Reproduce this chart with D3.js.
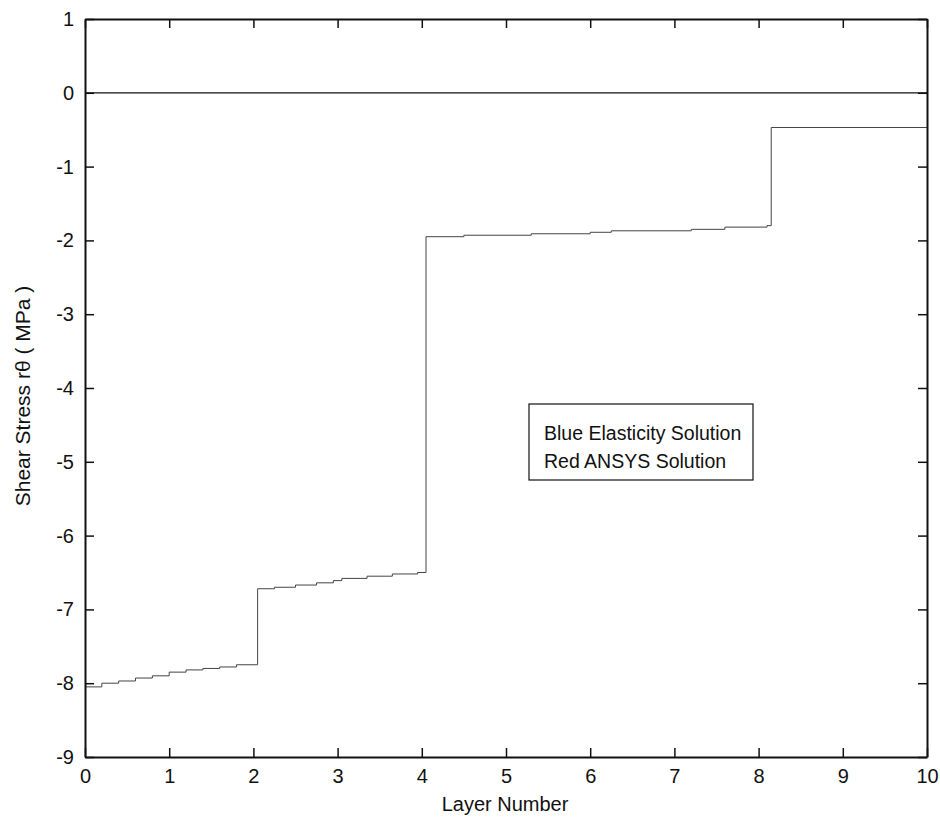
<!DOCTYPE html>
<html>
<head>
<meta charset="utf-8">
<script src="https://cdn.jsdelivr.net/npm/d3@7"></script>
<style>
  body { margin: 0; background: #fff; }
  text { font-family: "Liberation Sans", Arial, sans-serif; fill: #111; }
</style>
</head>
<body>
<div id="chart"></div>
<script>
// layer positions where the computed stress changes (step starts)
const layerX = [0, 0.2, 0.4, 0.6, 0.8, 1.0, 1.2, 1.4, 1.6, 1.8,
  2.05, 2.25, 2.5, 2.75, 2.95, 3.05, 3.35, 3.65, 3.95,
  4.05, 4.5, 5.3, 6.0, 6.25, 7.2, 7.6, 8.1,
  8.15, 10];
const stress = [-8.05, -8.0, -7.97, -7.93, -7.9, -7.85, -7.82, -7.8, -7.78, -7.75,
  -6.72, -6.70, -6.67, -6.64, -6.61, -6.58, -6.55, -6.52, -6.50,
  -1.95, -1.93, -1.91, -1.89, -1.87, -1.85, -1.82, -1.80,
  -0.47, -0.47];
const zeroLine = [[0, 0], [10, 0]];
const xTicks = [0, 1, 2, 3, 4, 5, 6, 7, 8, 9, 10];
const yTicks = [1, 0, -1, -2, -3, -4, -5, -6, -7, -8, -9];
const legendLines = ['Blue Elasticity Solution', 'Red ANSYS Solution'];

const width = 940, height = 830;
const margin = { top: 19, right: 13, bottom: 73, left: 85 };
const fs = '20px';

const svg = d3.select('#chart').append('svg')
  .attr('width', width)
  .attr('height', height);

const x = d3.scaleLinear().domain([0, 10]).range([margin.left, width - margin.right]);
const y = d3.scaleLinear().domain([-9, 1]).range([height - margin.bottom, margin.top]);

// zero reference line
svg.append('path')
  .datum(zeroLine)
  .attr('fill', 'none')
  .attr('stroke', '#111')
  .attr('stroke-width', 1.2)
  .attr('d', d3.line().x((d) => x(d[0])).y((d) => y(d[1])));

// stress curve (stair steps)
const pts = layerX.map((v, i) => [v, stress[i]]);
svg.append('path')
  .datum(pts)
  .attr('fill', 'none')
  .attr('stroke', '#444')
  .attr('stroke-width', 1)
  .attr('d', d3.line().curve(d3.curveStepAfter).x((d) => x(d[0])).y((d) => y(d[1])));

// axes, ticks pointing inward on all four sides
const tk = 9;
const axBottom = svg.append('g')
  .attr('transform', 'translate(0,' + y(-9) + ')')
  .call(d3.axisBottom(x).tickValues(xTicks).tickFormat(d3.format('d')).tickSizeInner(-tk).tickSizeOuter(0).tickPadding(12));
const axTop = svg.append('g')
  .attr('transform', 'translate(0,' + y(1) + ')')
  .call(d3.axisTop(x).tickValues(xTicks).tickFormat('').tickSizeInner(-tk).tickSizeOuter(0));
const axLeft = svg.append('g')
  .attr('transform', 'translate(' + x(0) + ',0)')
  .call(d3.axisLeft(y).tickValues(yTicks).tickFormat(d3.format('d')).tickSizeInner(-tk).tickSizeOuter(0).tickPadding(11));
const axRight = svg.append('g')
  .attr('transform', 'translate(' + x(10) + ',0)')
  .call(d3.axisRight(y).tickValues(yTicks).tickFormat('').tickSizeInner(-tk).tickSizeOuter(0));

[axBottom, axTop, axLeft, axRight].forEach((g) => {
  g.select('.domain').attr('stroke', '#111').attr('stroke-width', 2);
  g.selectAll('.tick line').attr('stroke', '#111').attr('stroke-width', 1.5);
  g.selectAll('.tick text').style('font-size', fs).attr('fill', '#111');
});
axLeft.selectAll('.tick text').text((d) => (d < 0 ? '-' + Math.abs(d) : d));

// axis labels
svg.append('text')
  .attr('x', 505)
  .attr('y', 811)
  .attr('text-anchor', 'middle')
  .style('font-size', fs)
  .text('Layer Number');

svg.append('text')
  .attr('transform', 'translate(30,396) rotate(-90)')
  .attr('text-anchor', 'middle')
  .style('font-size', '21px')
  .text('Shear Stress rθ ( MPa )');

// legend box
const lg = svg.append('g').attr('transform', 'translate(529,404)');
lg.append('rect')
  .attr('width', 224)
  .attr('height', 76)
  .attr('fill', '#fff')
  .attr('stroke', '#111')
  .attr('stroke-width', 1.2);
lg.selectAll('text.leg')
  .data(legendLines)
  .enter()
  .append('text')
  .attr('class', 'leg')
  .attr('x', 15)
  .attr('y', (d, i) => 36 + i * 28)
  .style('font-size', '19.5px')
  .text((d) => d);
</script>
</body>
</html>
